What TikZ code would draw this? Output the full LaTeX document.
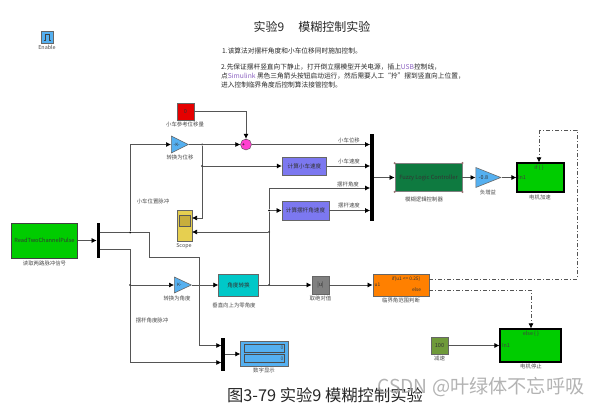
\documentclass[tikz,border=0pt]{standalone}
\usepackage{fontspec}
\setmainfont{Noto Sans CJK SC}
\usetikzlibrary{arrows.meta,shapes.geometric}
\definecolor{wire}{HTML}{555555}
\definecolor{lblgray}{HTML}{4A4A4A}
\definecolor{skyblue}{HTML}{55B0F0}
\definecolor{simgreen}{HTML}{00CC00}
\definecolor{fuzzgreen}{HTML}{0E7A40}
\definecolor{purpleblk}{HTML}{7C78F0}
\definecolor{linkpurple}{HTML}{8A60C0}
\definecolor{scopeyellow}{HTML}{E6CF50}
\definecolor{scopedark}{HTML}{C8AE3C}
\definecolor{tealblk}{HTML}{00C8C8}
\definecolor{graybk}{HTML}{808080}
\definecolor{oliveblk}{HTML}{6F9A3A}
\definecolor{orangeblk}{HTML}{FF8000}
\definecolor{pinksum}{HTML}{FF40D0}
\tikzset{
  blk/.style={draw=#1,line width=0.8pt,inner sep=0pt,font=\fontsize{5.6}{6}\selectfont,text=black!80},
  blk/.default={black!60},
  gainblk/.style={isosceles triangle,isosceles triangle stretches,draw=black!60,fill=skyblue,line width=0.6pt,
    inner sep=0pt,anchor=lower side,font=\fontsize{4.5}{5}\selectfont,text=black!80},
  busbar/.style={fill=black,inner sep=0pt,minimum width=3.4pt},
  dot/.style={circle,fill=black,inner sep=0pt,minimum size=2pt},
  conn/.style={draw=wire,line width=0.7pt,-{Latex[black,length=5pt,width=5pt]}},
  wireln/.style={draw=wire,line width=0.7pt},
  dashconn/.style={draw=wire,line width=0.7pt,dash pattern=on 4pt off 2pt on 1pt off 2pt},
  lbl/.style={inner sep=0pt,text=lblgray,font=\fontsize{5.4}{6}\selectfont},
  note/.style={inner sep=0pt,anchor=west,text=black!85,font=\fontsize{6.7}{7}\selectfont}
}
\begin{document}
\begin{tikzpicture}[x=1pt,y=-1pt]
\useasboundingbox (0,0) rectangle (602,406);

\node[inner sep=0pt,font=\fontsize{12}{14}\selectfont,text=black!85] (title) at (312,27) {实验9\hspace{14pt}模糊控制实验};
\node[note] (note1) at (222,51) {1.该算法对摆杆角度和小车位移同时施加控制。};
\node[note] (note2) at (221,67.5) {2.先保证摆杆竖直向下静止，打开倒立摆模型开关电源，插上\textcolor{linkpurple}{USB}控制线，};
\node[note] (note3) at (221,76) {点\textcolor{linkpurple}{Simulink} 黑色三角箭头按钮启动运行，然后需要人工“拎”摆到竖直向上位置，};
\node[note] (note4) at (221,85) {进入控制临界角度后控制算法接管控制。};

\node[blk,fill=skyblue,minimum width=12pt,minimum height=12pt] (enable) at (47,37) {};
\draw[black!75,line width=0.7pt] (43.5,40) -- (45,40) -- (45,34) -- (49,34) -- (49,40) -- (50.5,40);
\node[lbl] (enablelbl) at (47,47) {Enable};

\node[blk,fill=red!90!black,minimum width=17pt,minimum height=17pt] (refpos) at (185.5,111.5) {0};
\node[lbl] (refposlbl) at (185,124) {小车参考位移量};
\node[gainblk,minimum width=17pt,minimum height=17pt] (gainpos) at (171,144.5) {-K-};
\node[lbl] (gainposlbl) at (180,157) {转换为位移};
\node[circle,draw=black!70,fill=pinksum,inner sep=0pt,minimum size=11pt] (sum) at (246,144.5) {};
\node[inner sep=0pt,font=\fontsize{5}{5}\selectfont] (sumplus) at (243.5,145) {+};
\node[inner sep=0pt,font=\fontsize{5}{5}\selectfont] (summinus) at (246,141) {-};

\node[blk,fill=purpleblk,minimum width=44.5pt,minimum height=18pt] (carspeed) at (304.5,166) {计算小车速度};
\node[blk,fill=purpleblk,minimum width=47pt,minimum height=19pt] (polespeed) at (305.5,210.5) {计算摆杆角速度};
\node[busbar,minimum height=87pt] (bus) at (372,177.5) {};
\node[blk=black!50,fill=fuzzgreen,minimum width=67pt,minimum height=28pt,font=\fontsize{5.7}{6}\selectfont] (fuzzy) at (428.5,177.5) {Fuzzy Logic Controller};
\foreach \c in {north west,south west,north east,south east}
  \fill[black!40!pink] (fuzzy.\c) circle (1.2pt);
\node[lbl] (fuzzylbl) at (424,199) {模糊逻辑控制器};
\node[gainblk,minimum width=20pt,minimum height=25pt,font=\fontsize{5.4}{6}\selectfont] (gainneg) at (475.5,177.5) {-0.8};
\node[lbl] (gainneglbl) at (488,192.5) {负增益};
\node[blk=black,fill=simgreen,line width=1.1pt,minimum width=47pt,minimum height=29pt] (motoracc) at (540.5,177.5) {};
\node[lbl,text=black!75] (accif) at (539,167.5) {if \{ \}};
\node[lbl,text=black!75] (accin) at (522,177.5) {In1};
\node[lbl] (motoracclbl) at (540,197) {电机加速};

\node[blk,fill=scopeyellow,minimum width=15pt,minimum height=31pt] (scope) at (184.5,225.5) {};
\node[draw=black!65,fill=scopedark,inner sep=0pt,minimum width=11pt,minimum height=11pt] (scopescr) at (184.5,220.5) {};
\node[lbl] (scopelbl) at (184,246) {Scope};

\node[blk=black!75,fill=simgreen,minimum width=66.5pt,minimum height=35pt,font=\fontsize{5.6}{7}\selectfont] (readpulse) at (44.5,240.5) {ReadTwoChannelPulse};
\node[lbl] (readpulselbl) at (44.5,263) {读取两路脉冲信号};
\node[busbar,minimum height=35pt] (demux) at (98.5,240.5) {};
\node[lbl] (posplslbl) at (153,201) {小车位置脉冲};
\node[lbl] (anglepulselbl) at (152,320) {摆杆角度脉冲};

\node[gainblk,minimum width=16pt,minimum height=17pt] (gainang) at (174,285) {K-};
\node[lbl] (gainanglbl) at (177,298) {转换为角度};
\node[blk,fill=tealblk,minimum width=39.5pt,minimum height=22pt] (angleconv) at (238.5,285) {角度转换};
\node[lbl] (angleconvlbl) at (234,305) {垂直向上为零角度};
\node[blk,fill=graybk,minimum width=17pt,minimum height=18pt] (absval) at (320.5,285) {|u|};
\node[lbl] (absvallbl) at (320.5,298) {取绝对值};
\node[blk,fill=orangeblk,minimum width=56pt,minimum height=22pt] (judge) at (401,285) {};
\node[lbl,text=black!80,font=\fontsize{4.8}{5}\selectfont] (judgeif) at (406,279) {if(u1 <= 0.25)};
\node[lbl,text=black!80,font=\fontsize{4.8}{5}\selectfont] (judgeelse) at (416.5,290) {else};
\node[lbl,text=black!80,font=\fontsize{4.8}{5}\selectfont] (judgeu) at (377.5,285) {u1};
\node[lbl] (judgelbl) at (401,300.5) {临界角范围判断};

\node[blk=black,fill=simgreen,line width=1.1pt,minimum width=61pt,minimum height=33pt] (motorstop) at (530.5,345.5) {};
\node[lbl,text=black!75] (stopelse) at (531,333.5) {else \{ \}};
\node[lbl,text=black!75] (stopin) at (506,345.5) {In1};
\node[lbl] (motorstoplbl) at (531,366.5) {电机停止};
\node[blk,fill=oliveblk,minimum width=17pt,minimum height=17pt] (slow) at (439.5,345.5) {100};
\node[lbl] (slowlbl) at (439.5,358.5) {减速};

\node[busbar,minimum height=33pt] (dispbus) at (223,354) {};
\node[blk,fill=skyblue,minimum width=47.5pt,minimum height=25pt] (display) at (264.5,354) {};
\node[draw=black!70,inner sep=0.5pt,text width=39pt,align=right,minimum height=8pt,font=\fontsize{5}{5}\selectfont,text=black!70] (dispa) at (264,348) {0};
\node[draw=black!70,inner sep=0.5pt,text width=39pt,align=right,minimum height=8pt,font=\fontsize{5}{5}\selectfont,text=black!70] (dispb) at (264,358.5) {0};
\node[lbl] (displaylbl) at (264,370) {数字显示};

\node[dot] (jgain) at (202,144.5) {};
\node[dot] (jspeed) at (202,166) {};
\node[dot] (jangle) at (269,285) {};
\node[dot] (jscope) at (269,232) {};
\node[dot] (jpole) at (269,210.5) {};
\node[dot] (jpos) at (130,232.5) {};
\node[dot] (jang) at (130,285) {};
\coordinate (scopea) at (192,218);
\coordinate (scopeb) at (192,232);
\coordinate (posturn) at (149,232.5);
\coordinate (posbend) at (149,257.5);
\coordinate (postop) at (199.5,257.5);
\coordinate (anglebus) at (221.3,345.5);
\coordinate (polebus) at (221.3,362.5);
\coordinate (demuxa) at (100.2,232.5);
\coordinate (demuxb) at (100.2,249.5);
\coordinate (poletop) at (269,188);
\coordinate (dashtop) at (539,130);
\coordinate (dashright) at (577,130);
\coordinate (dashcorner) at (577,279);
\coordinate (elsecorner) at (531,290);
\coordinate (judgeouta) at (429,279);
\coordinate (judgeoutb) at (429,290);
\coordinate (aninput) at (130,144.5);

\draw[conn] (refpos.east) -| (sum.north);
\draw[conn] (gainpos.apex) -- (sum);
\draw[conn] (sum) -- (sum -| bus.west);
\draw[conn] (jspeed) -- (carspeed);
\draw[conn] (carspeed) -- (carspeed -| bus.west);
\draw[wireln] (jgain) -- (jspeed);
\draw[conn] (jspeed) |- (scopea);
\draw[conn] (jscope) -- (scopeb);
\draw[conn] (angleconv) -- (absval);
\draw[wireln] (jangle) -- (jscope);
\draw[wireln] (jscope) -- (jpole);
\draw[conn] (jpole) -- (polespeed);
\draw[wireln] (jpole) -- (poletop);
\draw[conn] (poletop) -- (poletop -| bus.west);
\draw[conn] (polespeed) -- (polespeed -| bus.west);
\draw[conn] (bus) -- (fuzzy);
\draw[conn] (fuzzy) -- (gainneg.lower side);
\draw[conn] (gainneg.apex) -- (motoracc);
\draw[conn] (absval) -- (judge);
\draw[conn] (readpulse) -- (demux);
\draw[wireln] (demuxa) -- (jpos);
\draw[wireln] (jpos) -- (posturn) -- (posbend) -- (postop);
\draw[conn] (postop) |- (anglebus);
\draw[wireln] (jpos) -- (aninput);
\draw[conn] (aninput) -- (gainpos.lower side);
\draw[wireln] (demuxb) -| (jang);
\draw[conn] (jang) -- (gainang.lower side);
\draw[conn] (gainang.apex) -- (angleconv);
\draw[conn] (jang) |- (polebus);
\draw[conn] (dispbus) -- (display);
\draw[conn] (slow) -- (motorstop);
\draw[dashconn] (judgeouta) -- (dashcorner) -- (dashright) -- (dashtop);
\draw[dashconn,-{Latex[black,length=5pt,width=5pt]}] (dashtop) -- (motoracc.north -| dashtop);
\draw[dashconn,-{Latex[black,length=5pt,width=5pt]}] (judgeoutb) -| (motorstop.north -| elsecorner);

\node[lbl] (carposlbl) at (349,140) {小车位移};
\node[lbl] (carspeedlbl) at (349,161) {小车速度};
\node[lbl] (poleanglelbl) at (348,184) {摆杆角度};
\node[lbl] (polespeedlbl) at (349,205) {摆杆速度};

\node[inner sep=0pt,font=\fontsize{16.3}{18}\selectfont,text=black!85] (caption) at (325,395) {图3-79 实验9 模糊控制实验};
\node[inner sep=0pt,font=\fontsize{19.2}{20}\selectfont,text=black!35,opacity=0.85] (watermark) at (481,387) {CSDN @叶绿体不忘呼吸};
\end{tikzpicture}
\end{document}
